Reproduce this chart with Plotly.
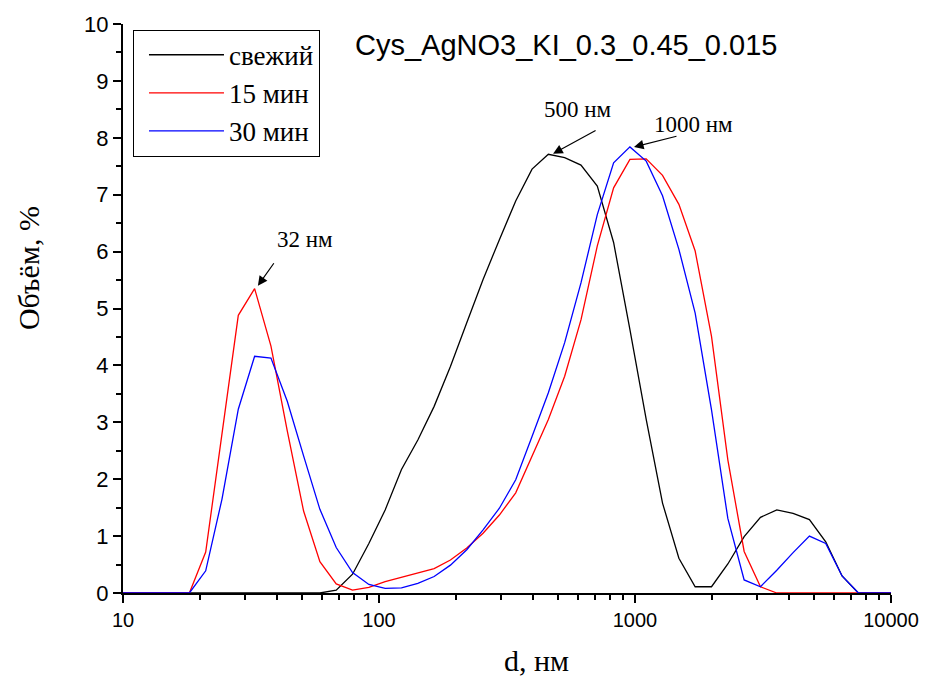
import plotly.graph_objects as go

# Particle size bins, nm
sizes = [8.721, 10.10, 11.70, 13.54, 15.69, 18.17, 21.04, 24.36, 28.21, 32.67, 37.84,
         43.82, 50.75, 58.77, 68.06, 78.82, 91.28, 105.7, 122.4, 141.8, 164.2,
         190.1, 220.2, 255.0, 295.3, 342.0, 396.1, 458.7, 531.2, 615.1, 712.4,
         825.0, 955.4, 1106, 1281, 1484, 1718, 1990, 2305, 2669, 3091, 3580,
         4145, 4801, 5560, 6439, 7456, 8635, 10000]

fresh = [0, 0, 0, 0, 0, 0, 0, 0, 0, 0, 0,
         0, 0, 0, 0.05, 0.33, 0.87, 1.46, 2.17, 2.69, 3.28,
         3.98, 4.75, 5.51, 6.21, 6.89, 7.45, 7.71, 7.65, 7.52, 7.15,
         6.16, 4.63, 3.05, 1.58, 0.61, 0.11, 0.11, 0.51, 0.99, 1.33, 1.46,
         1.40, 1.29, 0.90, 0.30, 0, 0, 0]

min15 = [0, 0, 0, 0, 0, 0, 0.72, 2.80, 4.88, 5.35, 4.34,
         2.85, 1.44, 0.55, 0.16, 0.05, 0.10, 0.20, 0.28, 0.35, 0.43,
         0.58, 0.79, 1.05, 1.37, 1.76, 2.40, 3.05, 3.81, 4.80, 6.10,
         7.12, 7.62, 7.63, 7.34, 6.83, 6.01, 4.51, 2.34, 0.73, 0.11, 0,
         0, 0, 0, 0, 0, 0, 0]

min30 = [0, 0, 0, 0, 0, 0, 0.39, 1.65, 3.23, 4.16, 4.13,
         3.37, 2.41, 1.47, 0.80, 0.36, 0.15, 0.08, 0.09, 0.17, 0.29,
         0.49, 0.76, 1.11, 1.49, 1.99, 2.75, 3.52, 4.40, 5.45, 6.65,
         7.56, 7.84, 7.59, 6.98, 6.04, 4.92, 3.22, 1.31, 0.23, 0.11, 0.40,
         0.71, 1.00, 0.87, 0.30, 0, 0, 0]

series_names = ["свежий", "15 мин", "30 мин"]
series_colors = ["black", "red", "blue"]

x_ticks = [10, 100, 1000, 10000]
x_ticktext = ["10", "100", "1000", "10000"]
x_minor = [m * 10 ** k for k in range(1, 4) for m in range(2, 10)]

SERIF = "Liberation Serif, Times New Roman, serif"
SANS = "Liberation Sans, Arial, sans-serif"

fig = go.Figure()
for name, ys, col in zip(series_names, [fresh, min15, min30], series_colors):
    fig.add_trace(go.Scatter(x=sizes, y=ys, mode="lines", name=name,
                             line=dict(color=col, width=1.3)))

fig.update_layout(
    width=911, height=668,
    margin=dict(l=115, r=28, t=16, b=83),
    paper_bgcolor="white", plot_bgcolor="white",
    showlegend=True,
    legend=dict(x=0.013, y=0.99, xanchor="left", yanchor="top",
                bordercolor="black", borderwidth=1, bgcolor="white",
                font=dict(family=SERIF, size=27, color="black"),
                itemwidth=75, indentation=10, tracegroupgap=0),
    font=dict(family=SANS, size=22, color="black"),
)

fig.update_xaxes(type="log", range=[1, 4], showgrid=False, zeroline=False,
                 automargin=False, ticklabeloverflow="allow",
                 showline=True, linecolor="black", linewidth=2,
                 ticks="outside", ticklen=8, tickwidth=2, tickcolor="black",
                 tickvals=x_ticks, ticktext=x_ticktext,
                 tickfont=dict(family=SANS, size=20, color="black"),
                 minor=dict(tickvals=x_minor, ticks="outside", ticklen=5,
                            tickwidth=1.5, tickcolor="black", showgrid=False))
fig.update_yaxes(range=[0, 10], showgrid=False, zeroline=False,
                 automargin=False,
                 showline=True, linecolor="black", linewidth=2,
                 ticks="outside", ticklen=8, tickwidth=2, tickcolor="black",
                 dtick=1, tick0=0,
                 tickfont=dict(family=SANS, size=22, color="black"),
                 minor=dict(dtick=0.5, ticks="outside", ticklen=5,
                            tickwidth=1.5, tickcolor="black", showgrid=False))

# Title and axis titles
fig.add_annotation(text="Cys_AgNO3_KI_0.3_0.45_0.015", xref="paper", yref="paper",
                   x=0.2995, y=0.9636, xanchor="left", yanchor="middle",
                   showarrow=False, font=dict(family=SANS, size=29, color="black"))
fig.add_annotation(text="d, нм", xref="paper", yref="paper",
                   x=0.539, y=-0.118, xanchor="center", yanchor="middle",
                   showarrow=False, font=dict(family=SERIF, size=30, color="black"))
fig.add_annotation(text="Объём, %", xref="paper", yref="paper",
                   x=-0.1237, y=0.571, xanchor="center", yanchor="middle",
                   textangle=-90, showarrow=False,
                   font=dict(family=SERIF, size=30, color="black"))

# Peak labels
labels = [("32 нм", 1.711, 6.21), ("500 нм", 2.777, 8.49), ("1000 нм", 3.227, 8.23)]
for t, lx, ly in labels:
    fig.add_annotation(text=t, x=lx, y=ly, xref="x", yref="y", showarrow=False,
                       xanchor="center", yanchor="middle",
                       font=dict(family=SERIF, size=23, color="black"))

arrows = [(1.527, 5.40, 17, -24), (2.680, 7.72, 44, -24), (2.996, 7.84, 44, -11)]
for axx, ayy, dx, dy in arrows:
    fig.add_annotation(text="", x=axx, y=ayy, xref="x", yref="y", showarrow=True,
                       ax=dx, ay=dy, arrowhead=2, arrowsize=1.6, arrowwidth=1.2,
                       arrowcolor="black", standoff=0)

fig.write_html("out.html")
